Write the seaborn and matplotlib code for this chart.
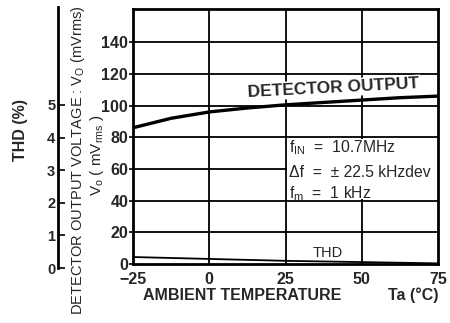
import matplotlib
matplotlib.use("Agg")
import matplotlib.pyplot as plt
import seaborn as sns
import pandas as pd
from matplotlib.patches import Rectangle

sns.set_theme(style="white")
plt.rcParams["font.family"] = ["Liberation Sans", "DejaVu Sans"]
plt.rcParams["mathtext.fontset"] = "custom"
plt.rcParams["mathtext.rm"] = "Liberation Sans"

# Detector output voltage (mVrms) and THD (%) versus ambient temperature
temperature = [-25, -12.5, 0, 12.5, 25, 37.5, 50, 62.5, 75]
detector_mv = [86, 92, 96, 98.5, 100.5, 102, 103.5, 105, 106]
thd_pct = [0.22, 0.19, 0.16, 0.13, 0.10, 0.08, 0.06, 0.04, 0.02]

x_ticks = [-25, 0, 25, 50, 75]
x_tick_labels = ["\u221225", "0", "25", "50", "75"]
v_ticks = [0, 20, 40, 60, 80, 100, 120, 140]
thd_ticks = [0, 1, 2, 3, 4, 5]

df = pd.DataFrame({"Ta": temperature, "Vo": detector_mv, "THD": thd_pct})

W, H = 450, 323
fig = plt.figure(figsize=(W / 100, H / 100), dpi=100)
fig.patch.set_facecolor("white")

def box(l, t, r, b):
    return [l / W, (H - b) / H, (r - l) / W, (b - t) / H]

ax = fig.add_axes(box(133, 9, 438, 264))
ax.set_facecolor("white")
ax.set_xlim(-25, 75)
ax.set_ylim(0, 161)

# grid lines
for xv in [0, 25, 50]:
    ax.axvline(xv, color="black", lw=1.3, zorder=1)
for yv in v_ticks[1:]:
    ax.axhline(yv, color="black", lw=1.3, zorder=1)

# blank panel behind the test conditions
ax.add_patch(Rectangle((25.6, 41.2), 49.4, 37.6, facecolor="white",
                       edgecolor="none", zorder=2))

sns.lineplot(data=df, x="Ta", y="Vo", ax=ax, color="black", lw=2.4,
             zorder=4, legend=False)

ax_thd = ax.twinx()
ax_thd.set_ylim(0, 161 / 20.0)
sns.lineplot(data=df, x="Ta", y="THD", ax=ax_thd, color="black", lw=1.3,
             zorder=4, legend=False)
ax_thd.axis("off")

for s in ax.spines.values():
    s.set_visible(True)
    s.set_color("black")
    s.set_linewidth(2.0)

ax.set_xticks(x_ticks)
ax.set_xticklabels(x_tick_labels, fontsize=11.5, fontweight="bold")
ax.set_yticks(v_ticks)
ax.set_yticklabels([str(v) for v in v_ticks], fontsize=11.5, fontweight="bold")
ax.tick_params(axis="y", direction="out", length=3, width=1.2, pad=0.5,
               left=True, color="black")
ax.tick_params(axis="x", length=0, pad=6)
ax.set_xlabel("")
ax.set_ylabel("")

ax.text(12.6, 108.3, "DETECTOR OUTPUT", fontsize=12.5, fontweight="bold",
        rotation=3.0, rotation_mode="anchor", ha="left", va="center",
        zorder=5, bbox=dict(facecolor="white", edgecolor="none", pad=1.0))

cond = dict(fontsize=11.3, ha="left", va="center", zorder=5)
ax.text(26.3, 73.4, r"f$_\mathrm{IN}$  =  10.7MHz", **cond)
ax.text(26.3, 57.6, "\u0394f  =  \u00b1 22.5 kHzdev", **cond)
ax.text(26.3, 44.3, r"f$_\mathrm{m}$  =  1 kHz", **cond)
ax.text(39, 7.0, "THD", fontsize=10.5, ha="center", va="center", zorder=5)

# separate THD scale on the far left
ax_s = fig.add_axes(box(58, 7, 59, 268))
ax_s.set_ylim(0, 8.0)
ax_s.set_xticks([])
for k, s in ax_s.spines.items():
    s.set_visible(k == "left")
ax_s.spines["left"].set_linewidth(2.0)
ax_s.spines["left"].set_color("black")
ax_s.patch.set_alpha(0)
ax_s.set_yticks(thd_ticks)
ax_s.set_yticklabels([str(v) for v in thd_ticks], fontsize=10.5,
                     fontweight="bold")
ax_s.tick_params(axis="y", direction="in", length=5, width=1.2, pad=2,
                 left=True, color="black")

fig.text(20 / W, 1 - 130 / H, "THD (%)", rotation=90, fontsize=11.5,
         fontweight="bold", ha="center", va="center")
fig.text(78 / W, 1 - 160 / H, r"DETECTOR OUTPUT VOLTAGE : V$_\mathrm{O}$ (mVrms)",
         rotation=90, fontsize=10.5, ha="center", va="center")
fig.text(97 / W, 1 - 155 / H, r"V$_\mathrm{o}$ ( mV$_\mathrm{rms}$ )",
         rotation=90, fontsize=11, ha="center", va="center")
fig.text(143 / W, 1 - 300 / H, "AMBIENT TEMPERATURE",
         fontsize=11.5, fontweight="bold", ha="left", va="baseline")
fig.text(438 / W, 1 - 300 / H, "Ta (\u00b0C)",
         fontsize=11.5, fontweight="bold", ha="right", va="baseline")

fig.savefig("out.png", dpi=100, facecolor="white")
